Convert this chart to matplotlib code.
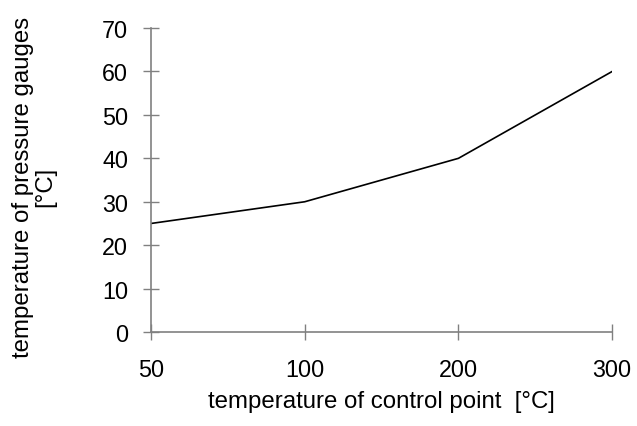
import matplotlib.pyplot as plt

plt.rcParams['font.family'] = ['Liberation Sans', 'DejaVu Sans']

categories = ['50', '100', '200', '300']
gauge_temp = [25, 30, 40, 60]
y_ticks = [0, 10, 20, 30, 40, 50, 60, 70]

fig = plt.figure(figsize=(6.37, 4.27), dpi=100)
ax = fig.add_axes([0.237, 0.220, 0.724, 0.712])

x = range(len(categories))
ax.plot(x, gauge_temp, color='black', linewidth=1.2)

ax.set_xlim(0, len(categories) - 1)
ax.set_ylim(0, 70)
ax.set_xticks(list(x))
ax.set_xticklabels(categories)
ax.set_yticks(y_ticks)

for s in ['top', 'right']:
    ax.spines[s].set_visible(False)
for s in ['left', 'bottom']:
    ax.spines[s].set_color('#808080')
    ax.spines[s].set_linewidth(1.2)

ax.tick_params(direction='inout', length=11, width=1.0, color='#808080',
               labelsize=16.8)
ax.tick_params(axis='x', pad=13.5)
ax.tick_params(axis='y', pad=11)

ax.set_xlabel('temperature of control point  [°C]', fontsize=17.3, labelpad=6)
ax.set_ylabel('temperature of pressure gauges\n[°C]', fontsize=17.3,
              linespacing=1.0)
ax.yaxis.set_label_coords(-0.206, 0.48)

fig.savefig('out.png', dpi=100)
